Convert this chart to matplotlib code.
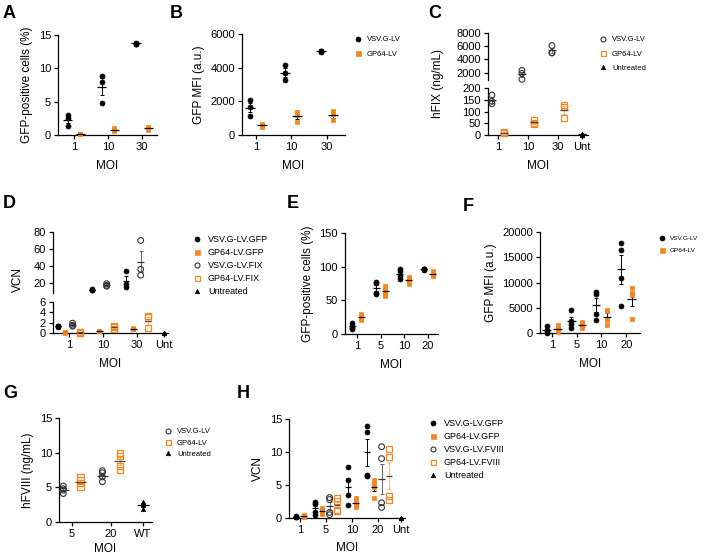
import numpy as np
import matplotlib
matplotlib.use('Agg')
import matplotlib.pyplot as plt
from matplotlib.lines import Line2D

plt.rcParams['font.family'] = ['Liberation Sans', 'DejaVu Sans']

ORANGE = '#f5861f'

# ---- data ----
# A: GFP-positive cells (%)
a_cats = ['1', '10', '30']
a_vsv = [[3.0, 2.6, 1.3], [8.9, 8.0, 4.8], [13.7, 13.7, 13.8]]
a_gp64 = [[0.1, 0.2, 0.15], [1.0, 0.6, 0.7], [1.2, 0.8, 1.1]]

# B: GFP MFI (a.u.)
b_cats = ['1', '10', '30']
b_vsv = [[2100, 1650, 1150], [4150, 3700, 3250], [4980, 4960, 5000]]
b_gp64 = [[480, 650, 580], [1350, 1200, 800], [1450, 1250, 900]]

# C: hFIX (ng/mL)
c_cats = ['1', '10', '30', 'Unt']
c_moi = ['1', '10', '30']
c_vsv = [[170, 143, 133], [2350, 1900, 1000], [6100, 5000, 5000]]
c_gp64 = [[7, 14, 10], [64, 50, 47], [129, 119, 74]]
c_unt = [6, 3, 2]

# D: VCN
d_cats = ['1', '10', '30', 'Unt']
d_moi = ['1', '10', '30']
d_vsv_gfp = [[1.4, 1.2, 1.3], [12.5, 11.5, 12.0], [34, 19, 14.5]]
d_gp64_gfp = [[0.05, 0.1, 0.1], [0.4, 0.3, 0.35], [0.8, 0.7, 0.9]]
d_vsv_fix = [[1.9, 1.5, 1.3], [19, 17, 16], [70, 36, 29]]
d_gp64_fix = [[0.1, 0.15, 0.05], [1.4, 1.2, 0.7], [3.2, 3.0, 0.9]]
d_unt = [0, 0, 0]

# E: GFP-positive cells (%)
e_cats = ['1', '5', '10', '20']
e_vsv = [[17, 12, 9, 7], [77, 76, 61, 59], [96, 93, 86, 82], [97, 96, 96, 95]]
e_gp64 = [[29, 26, 24, 21], [71, 66, 60, 57], [85, 82, 78, 75], [93, 91, 88, 86]]

# F: GFP MFI (a.u.)
f_cats = ['1', '5', '10', '20']
f_vsv = [[1300, 650, 330, 0], [4600, 2300, 1800, 1000],
         [8100, 7700, 3800, 2500], [17800, 16400, 10800, 5400]]
f_gp64 = [[1500, 850, 500, 150], [2200, 2000, 1500, 1000],
          [4500, 4300, 2600, 1650], [9000, 7900, 7500, 2750]]

# G: hFVIII (ng/mL)
g_cats = ['5', '20', 'WT']
g_moi = ['5', '20']
g_vsv = [[5.2, 4.8, 4.6, 4.1], [7.4, 7.1, 6.5, 5.8]]
g_gp64 = [[6.5, 6.0, 5.6, 5.0], [10.0, 9.5, 8.1, 7.5]]
g_unt = [2.9, 2.7, 2.4, 1.9]

# H: VCN
h_cats = ['1', '5', '10', '20', 'Unt']
h_moi = ['1', '5', '10', '20']
h_moi_fviii = ['5', '20']
h_vsv_gfp = [[0.25, 0.15, 0.1], [2.4, 2.1, 0.85, 0.5],
             [7.7, 5.8, 3.5, 1.9], [14.0, 13.0, 6.5, 6.4]]
h_gp64_gfp = [[0.4, 0.25, 0.2], [1.55, 1.25, 0.85, 0.6],
              [3.0, 2.65, 2.0, 1.65], [5.7, 5.2, 4.7, 3.1]]
h_vsv_fviii = [[3.1, 2.8, 0.85, 0.5], [10.8, 9.0, 2.3, 1.6]]
h_gp64_fviii = [[3.0, 2.6, 1.25, 1.0], [10.5, 9.2, 3.3, 2.7]]
h_unt = [0, 0, 0]

# ---- styles ----
STY = {
    'vsv': dict(marker='o', fc='black', ec='black', s=13, lw=0.5, bar='black', mean='black'),
    'gp64': dict(marker='s', fc=ORANGE, ec=ORANGE, s=12, lw=0.5, bar='black', mean='black'),
    'vsv_open': dict(marker='o', fc='none', ec='#333333', s=17, lw=0.8, bar='#666666', mean='#333333'),
    'gp64_open': dict(marker='s', fc='none', ec=ORANGE, s=19, lw=0.9, bar='#f7b57a', mean='#444444'),
    'unt': dict(marker='^', fc='black', ec='black', s=10, lw=0.5, bar='black', mean='black'),
}

W, H = 705, 556
fig = plt.figure(figsize=(W / 100, H / 100), dpi=100)


def box(l, r, t, b):
    return fig.add_axes([l / W, 1 - b / H, (r - l) / W, (b - t) / H])


def style(ax, xlim, ylim, yticks, bottom=True):
    ax.set_xlim(*xlim)
    ax.set_ylim(*ylim)
    ax.set_yticks(yticks)
    for s in ['top', 'right']:
        ax.spines[s].set_visible(False)
    for s in ['left', 'bottom']:
        ax.spines[s].set_linewidth(0.9)
    ax.tick_params(labelsize=8, length=3, width=0.9, pad=2)
    if not bottom:
        ax.spines['bottom'].set_visible(False)
        ax.set_xticks([])


def draw(axes, x, vals, st, mw):
    # axes: list of (ax, lo, hi) ranges for broken axes
    vals = np.asarray(vals, dtype=float)
    m = vals.mean()
    sem = vals.std(ddof=1) / np.sqrt(len(vals))
    for ax, lo, hi in axes:
        sel = (vals >= lo) & (vals <= hi)
        if sel.any():
            ax.scatter(np.full(sel.sum(), x), vals[sel], marker=st['marker'],
                       facecolors=st['fc'], edgecolors=st['ec'], s=st['s'],
                       linewidths=st['lw'], clip_on=False, zorder=3)
        ax.errorbar(x, m, yerr=sem, color=st['bar'], capsize=1.6,
                    elinewidth=0.7, capthick=0.7, zorder=2)
        ax.hlines(m, x - mw, x + mw, color=st['mean'], lw=0.9, zorder=4)


def panel(axes, cats, pos, series, step, mw):
    for ci, cat in enumerate(cats):
        present = [(lab, vals, st) for lab, vals, st in series if cat in lab]
        n = len(present)
        for k, (lab, vals, st) in enumerate(present):
            x = pos[ci] + (k - (n - 1) / 2) * step
            draw(axes, x, vals[lab.index(cat)], STY[st], mw)


def xaxis(ax, cats, pos, pad=6):
    ax.set_xticks(pos)
    ax.set_xticklabels(cats)
    ax.set_xlabel('MOI', fontsize=8.5, labelpad=pad)


def legend(items, x, y, size=6.5, spacing=0.45):
    handles = [Line2D([], [], linestyle='none', marker=STY[st]['marker'],
                      markerfacecolor=STY[st]['fc'], markeredgecolor=STY[st]['ec'],
                      markersize=3.6 if st != 'unt' else 3.2,
                      markeredgewidth=STY[st]['lw'])
               for _, st in items]
    fig.legend(handles, [lab for lab, _ in items], loc='upper left',
               bbox_to_anchor=(x / W, 1 - y / H), frameon=False, fontsize=size,
               handlelength=1.0, handletextpad=0.7, labelspacing=spacing,
               borderpad=0, borderaxespad=0)


def letter(txt, x, y):
    fig.text(x / W, 1 - y / H, txt, fontsize=13, fontweight='bold', va='top', ha='left')


# ---- A ----
ax = box(58, 157, 35, 135)
pos = [0, 1, 2]
style(ax, (-0.47, 2.44), (0, 15), [0, 5, 10, 15])
panel([(ax, -1e9, 1e9)], a_cats, pos,
      [(a_cats, a_vsv, 'vsv'), (a_cats, a_gp64, 'gp64')], 0.37, 0.14)
xaxis(ax, a_cats, pos)
ax.set_ylabel('GFP-positive cells (%)', fontsize=8.5, labelpad=4)

# ---- B ----
ax = box(242, 345, 34, 135)
style(ax, (-0.39, 2.51), (0, 6000), [0, 2000, 4000, 6000])
panel([(ax, -1e9, 1e9)], b_cats, pos,
      [(b_cats, b_vsv, 'vsv'), (b_cats, b_gp64, 'gp64')], 0.34, 0.14)
xaxis(ax, b_cats, pos)
ax.set_ylabel('GFP MFI (a.u.)', fontsize=8.5, labelpad=4)
legend([('VSV.G-LV', 'vsv'), ('GP64-LV', 'gp64')], 354, 36, size=5.5, spacing=0.9)

# ---- C (broken axis) ----
pos = [0, 1, 2, 2.8]
axt = box(488, 588, 33, 80)
axb = box(488, 588, 88, 135)
style(axt, (-0.33, 3.0), (900, 8000), [2000, 4000, 6000, 8000], bottom=False)
style(axb, (-0.33, 3.0), (0, 200), [0, 50, 100, 150, 200])
panel([(axt, 900, 1e9), (axb, -1e9, 200)], c_cats, pos,
      [(c_moi, c_vsv, 'vsv_open'), (c_moi, c_gp64, 'gp64_open'),
       (['Unt'], [c_unt], 'unt')], 0.4, 0.14)
xaxis(axb, c_cats, pos)
fig.text(438 / W, 1 - 84 / H, 'hFIX (ng/mL)', rotation=90, fontsize=8.5,
         ha='center', va='center')
legend([('VSV.G-LV', 'vsv_open'), ('GP64-LV', 'gp64_open'),
        ('Untreated', 'unt')], 599, 36, size=5.5, spacing=0.9)

# ---- D (broken axis) ----
pos = [0, 1, 2, 2.79]
axt = box(53, 168, 232, 293)
axb = box(53, 168, 302, 333)
style(axt, (-0.47, 2.91), (8, 80), [20, 40, 60, 80], bottom=False)
style(axb, (-0.47, 2.91), (0, 6), [0, 2, 4, 6])
panel([(axt, 8, 1e9), (axb, -1e9, 6)], d_cats, pos,
      [(d_moi, d_vsv_gfp, 'vsv'), (d_moi, d_gp64_gfp, 'gp64'),
       (d_moi, d_vsv_fix, 'vsv_open'), (d_moi, d_gp64_fix, 'gp64_open'),
       (['Unt'], [d_unt], 'unt')], 0.215, 0.1)
xaxis(axb, d_cats, pos)
fig.text(18 / W, 1 - 280 / H, 'VCN', rotation=90, fontsize=8.5,
         ha='center', va='center')
legend([('VSV.G-LV.GFP', 'vsv'), ('GP64-LV.GFP', 'gp64'),
        ('VSV.G-LV.FIX', 'vsv_open'), ('GP64-LV.FIX', 'gp64_open'),
        ('Untreated', 'unt')], 192.5, 235)

# ---- E ----
pos = [0, 1, 2, 3]
ax = box(345, 438, 233, 334)
style(ax, (-0.5, 3.42), (0, 150), [0, 50, 100, 150])
panel([(ax, -1e9, 1e9)], e_cats, pos,
      [(e_cats, e_vsv, 'vsv'), (e_cats, e_gp64, 'gp64')], 0.38, 0.15)
xaxis(ax, e_cats, pos)
ax.set_ylabel('GFP-positive cells (%)', fontsize=8.5, labelpad=4)

# ---- F ----
ax = box(540, 640, 232, 333)
style(ax, (-0.49, 3.56), (0, 20000), [0, 5000, 10000, 15000, 20000])
panel([(ax, -1e9, 1e9)], f_cats, pos,
      [(f_cats, f_vsv, 'vsv'), (f_cats, f_gp64, 'gp64')], 0.44, 0.17)
xaxis(ax, f_cats, pos)
ax.set_ylabel('GFP MFI (a.u.)', fontsize=8.5, labelpad=4)
legend([('VSV.G-LV', 'vsv'), ('GP64-LV', 'gp64')], 659, 236, size=4.6, spacing=1.0)

# ---- G ----
pos = [0, 1, 1.82]
ax = box(59, 152, 418, 522)
style(ax, (-0.33, 2.05), (0, 15), [0, 5, 10, 15])
panel([(ax, -1e9, 1e9)], g_cats, pos,
      [(g_moi, g_vsv, 'vsv_open'), (g_moi, g_gp64, 'gp64_open'),
       (['WT'], [g_unt], 'unt')], 0.44, 0.15)
xaxis(ax, g_cats, pos, pad=3)
ax.set_ylabel('hFVIII (ng/mL)', fontsize=8.5, labelpad=4)
legend([('VSV.G-LV', 'vsv_open'), ('GP64-LV', 'gp64_open'),
        ('Untreated', 'unt')], 164, 428, size=5.5, spacing=0.5)

# ---- H ----
pos = [0, 1, 2, 3, 3.88]
ax = box(289, 405, 419, 518)
style(ax, (-0.42, 4.04), (0, 15), [0, 5, 10, 15])
panel([(ax, -1e9, 1e9)], h_cats, pos,
      [(h_moi, h_vsv_gfp, 'vsv'), (h_moi, h_gp64_gfp, 'gp64'),
       (h_moi_fviii, h_vsv_fviii, 'vsv_open'),
       (h_moi_fviii, h_gp64_fviii, 'gp64_open'),
       (['Unt'], [h_unt], 'unt')], 0.28, 0.12)
xaxis(ax, h_cats, pos, pad=5)
ax.set_ylabel('VCN', fontsize=8.5, labelpad=4)
legend([('VSV.G-LV.GFP', 'vsv'), ('GP64-LV.GFP', 'gp64'),
        ('VSV.G-LV.FVIII', 'vsv_open'), ('GP64-LV.FVIII', 'gp64_open'),
        ('Untreated', 'unt')], 428.5, 419)

# ---- panel letters ----
for txt, x, y in [('A', 3, 5), ('B', 170, 5), ('C', 428, 5), ('D', 3, 195),
                  ('E', 287, 195), ('F', 463, 198), ('G', 3, 385), ('H', 237, 385)]:
    letter(txt, x, y)

fig.savefig('out.png', dpi=100)
